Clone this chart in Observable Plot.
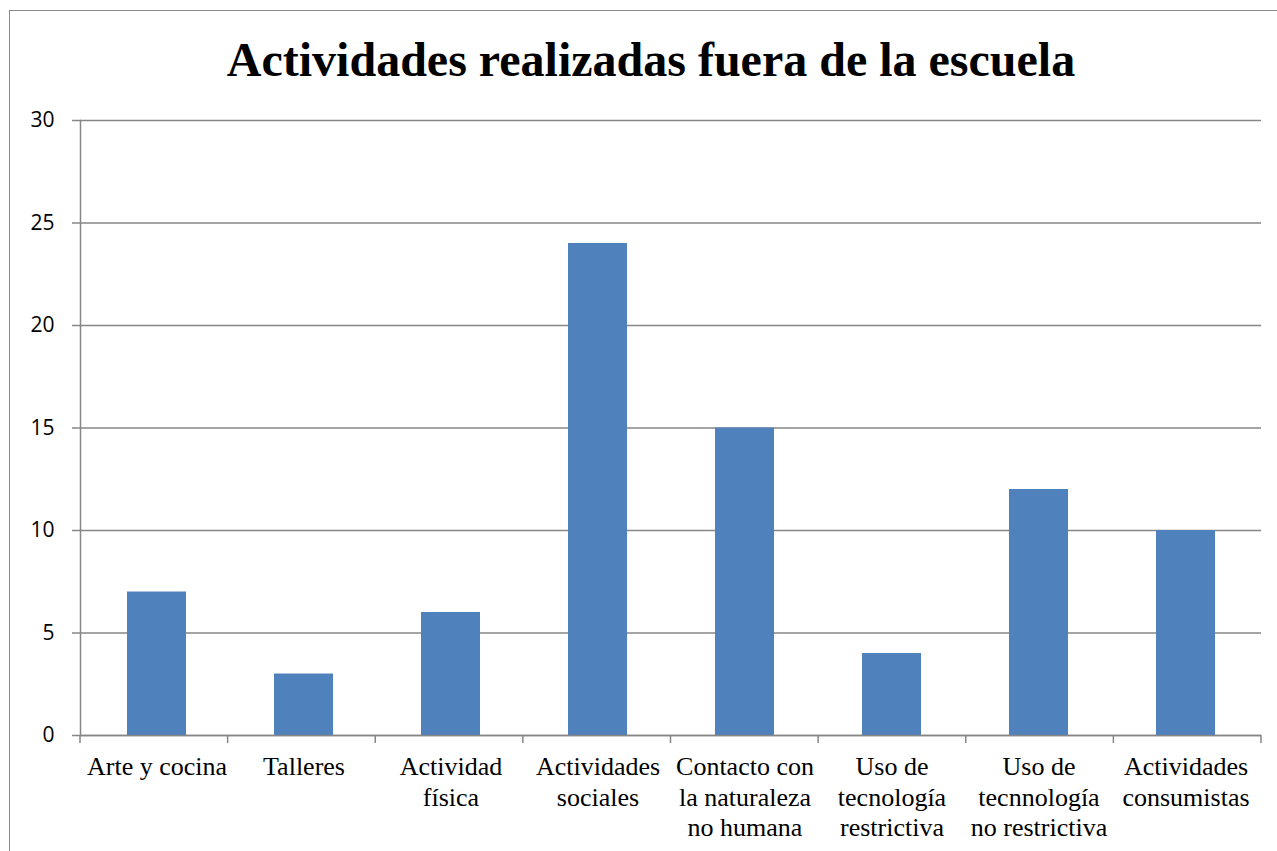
<!DOCTYPE html>
<html>
<head>
<meta charset="utf-8">
<script src="https://cdn.jsdelivr.net/npm/d3@7"></script>
<script src="https://cdn.jsdelivr.net/npm/@observablehq/plot@0.6"></script>
<style>
  html, body { margin: 0; padding: 0; background: #fff; width: 1277px; height: 851px; overflow: hidden; }
  #frame { position: absolute; left: 9px; top: 10px; width: 1300px; height: 900px; border: 1.5px solid #8a8a8a; box-sizing: border-box; }
  #title { position: absolute; left: 0; top: 30px; width: 1302px; text-align: center; font-family: "Liberation Serif", "Times New Roman", serif; font-weight: bold; font-size: 48px; line-height: 60px; color: #000; }
  #chart { position: absolute; left: 0; top: 90px; }
</style>
</head>
<body>
<div id="frame"></div>
<div id="title">Actividades realizadas fuera de la escuela</div>
<div id="chart"></div>
<script>
const categories = ["Arte y cocina", "Talleres", "Actividad física", "Actividades sociales", "Contacto con la naturaleza no humana", "Uso de tecnología restrictiva", "Uso de tecnnología no restrictiva", "Actividades consumistas"];
const tickLabels = ["Arte y cocina", "Talleres", "Actividad\nfísica", "Actividades\nsociales", "Contacto con\nla naturaleza\nno humana", "Uso de\ntecnología\nrestrictiva", "Uso de\ntecnnología\nno restrictiva", "Actividades\nconsumistas"];
const values = [7, 3, 6, 24, 15, 4, 12, 10];
const yTicks = [0, 5, 10, 15, 20, 25, 30];

const data = categories.map((c, i) => ({category: c, value: values[i]}));
const labelOf = new Map(categories.map((c, i) => [c, tickLabels[i]]));
const gray = "#868686";

function boundaryTicks(index, scales, values, dims) {
  const g = d3.create("svg:g");
  const x0 = dims.marginLeft, x1 = dims.width - dims.marginRight;
  const y0 = scales.y(0);
  const n = categories.length;
  for (let k = 0; k <= n; k++) {
    const x = x0 + (x1 - x0) * k / n;
    g.append("line").attr("x1", x).attr("x2", x).attr("y1", y0).attr("y2", y0 + 8)
      .attr("stroke", gray).attr("stroke-width", 1.5);
  }
  return g.node();
}

const chart = Plot.plot({
  width: 1277,
  height: 761,
  marginLeft: 80,
  marginRight: 16,
  marginTop: 30,
  marginBottom: 116,
  style: { background: "transparent", overflow: "visible", fontFamily: "Liberation Serif, serif", fontSize: "26px" },
  x: { domain: categories, paddingInner: 0.6, paddingOuter: 0.3, label: null },
  y: { domain: [0, 30], label: null },
  marks: [
    Plot.gridY(yTicks, { stroke: gray, strokeOpacity: 1, strokeWidth: 1.5 }),
    Plot.axisY({ ticks: yTicks, tickSize: 8, tickPadding: 18, stroke: gray, strokeWidth: 1.5, strokeOpacity: 1, fontSize: 21, fill: "#000" }),
    Plot.barY(data, { x: "category", y: "value", fill: "#4F81BD" }),
    Plot.frame({ anchor: "left", stroke: gray, strokeWidth: 1.5, strokeOpacity: 1 }),
    Plot.ruleY([0], { stroke: gray, strokeWidth: 1.5 }),
    boundaryTicks,
    Plot.axisX({ tickSize: 0, tickPadding: 18, tickFormat: c => labelOf.get(c), fontSize: 26, lineHeight: 1.17, fill: "#000" })
  ]
});
document.getElementById("chart").appendChild(chart);
// font assignment: category labels in serif, numeric y labels in sans
d3.select(chart).selectAll("text").each(function() {
  const t = this.textContent.trim();
  if (/^\d+$/.test(t)) {
    this.style.fontFamily = "'Open Sans', sans-serif";
    this.style.fontSize = "21px";
  } else {
    this.style.fontFamily = "'Liberation Serif', serif";
    this.style.fontSize = "26px";
  }
});
</script>
</body>
</html>
